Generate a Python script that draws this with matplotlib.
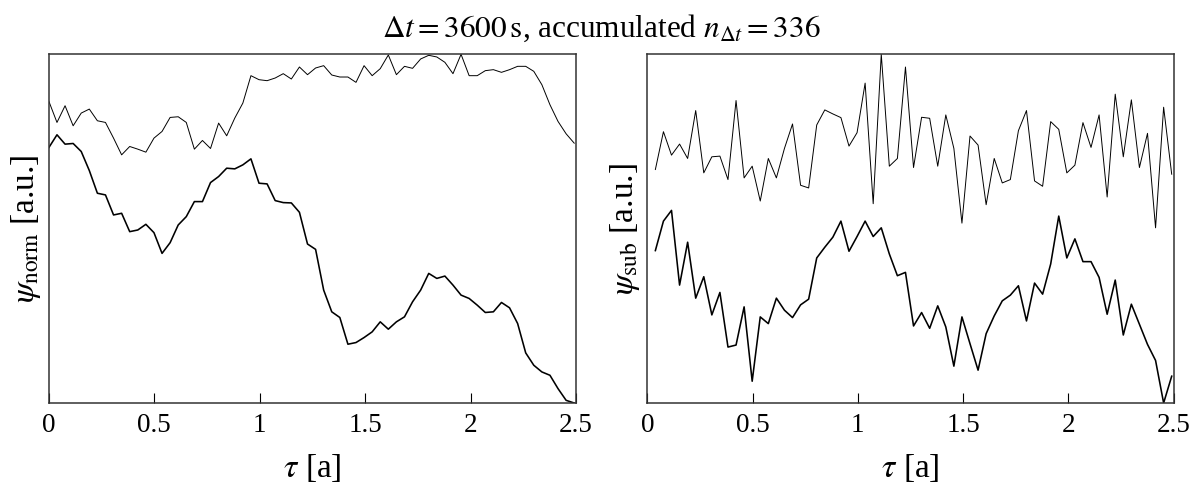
import numpy as np
import matplotlib
matplotlib.use("Agg")
import matplotlib.pyplot as plt

plt.rcParams['font.family'] = ['Liberation Serif', 'DejaVu Serif']
plt.rcParams['mathtext.fontset'] = 'stix'

# lag step: 336 h = 14 days, tau in years
lag_step_days = 14.0
left_idx = np.arange(0, 66)
right_idx = np.arange(1, 66)

norm_thin = [0.903, 0.840, 0.890, 0.830, 0.868, 0.880, 0.845, 0.840, 0.793, 0.743,
             0.768, 0.760, 0.751, 0.793, 0.813, 0.855, 0.857, 0.840, 0.760, 0.786,
             0.762, 0.838, 0.800, 0.853, 0.898, 0.980, 0.968, 0.965, 0.973, 0.986,
             0.970, 1.006, 0.983, 1.003, 1.010, 0.982, 0.976, 0.976, 0.960, 1.010,
             0.980, 1.001, 1.042, 0.983, 1.008, 1.002, 1.030, 1.041, 1.036, 1.020,
             0.986, 1.044, 0.980, 0.980, 0.995, 0.998, 0.990, 0.998, 1.008, 1.008,
             0.993, 0.953, 0.893, 0.843, 0.806, 0.778]

norm_thick = [0.765, 0.803, 0.775, 0.777, 0.753, 0.696, 0.628, 0.623, 0.563, 0.568,
              0.513, 0.518, 0.535, 0.510, 0.448, 0.480, 0.533, 0.558, 0.603, 0.603,
              0.660, 0.678, 0.703, 0.701, 0.713, 0.731, 0.658, 0.656, 0.606, 0.600,
              0.599, 0.571, 0.476, 0.460, 0.338, 0.273, 0.256, 0.176, 0.181, 0.196,
              0.213, 0.243, 0.221, 0.243, 0.258, 0.303, 0.338, 0.388, 0.373, 0.380,
              0.353, 0.323, 0.313, 0.293, 0.271, 0.273, 0.301, 0.285, 0.238, 0.150,
              0.113, 0.093, 0.083, 0.043, 0.008, 0.000]

sub_thin = [0.700, 0.813, 0.743, 0.776, 0.733, 0.876, 0.690, 0.738, 0.740, 0.670,
            0.906, 0.675, 0.710, 0.606, 0.733, 0.675, 0.763, 0.836, 0.653, 0.645,
            0.833, 0.878, 0.866, 0.855, 0.770, 0.810, 0.958, 0.598, 1.044, 0.710,
            0.733, 1.006, 0.706, 0.856, 0.853, 0.710, 0.863, 0.763, 0.540, 0.800,
            0.773, 0.595, 0.733, 0.660, 0.670, 0.816, 0.876, 0.666, 0.650, 0.843,
            0.820, 0.690, 0.713, 0.840, 0.766, 0.863, 0.618, 0.925, 0.738, 0.908,
            0.706, 0.808, 0.526, 0.886, 0.686]

sub_thick = [0.458, 0.546, 0.578, 0.355, 0.483, 0.316, 0.380, 0.266, 0.333, 0.170,
             0.176, 0.290, 0.068, 0.260, 0.240, 0.316, 0.280, 0.258, 0.296, 0.313,
             0.436, 0.468, 0.498, 0.546, 0.456, 0.500, 0.546, 0.500, 0.526, 0.448,
             0.383, 0.393, 0.233, 0.273, 0.226, 0.293, 0.230, 0.113, 0.260, 0.180,
             0.101, 0.210, 0.263, 0.308, 0.325, 0.353, 0.248, 0.361, 0.328, 0.418,
             0.561, 0.436, 0.493, 0.425, 0.425, 0.378, 0.268, 0.370, 0.206, 0.298,
             0.238, 0.178, 0.130, 0.003, 0.083]

xticks = [0, 0.5, 1, 1.5, 2, 2.5]
xtick_labels = ['0', '0.5', '1', '1.5', '2', '2.5']

tau_left = left_idx * lag_step_days / 365.25
tau_right = right_idx * lag_step_days / 365.25

fig = plt.figure(figsize=(12.03, 4.84), dpi=100)
W, H = 1203, 484
ax1 = fig.add_axes([48.9 / W, 1 - 403 / H, (576 - 48.9) / W, (403 - 54.3) / H])
ax2 = fig.add_axes([647.3 / W, 1 - 403 / H, (1173.5 - 647.3) / W, (403 - 54.3) / H])

for ax, t, thin, thick, lab in [(ax1, tau_left, norm_thin, norm_thick, r'$\psi_\mathrm{norm}$ [a.u.]'),
                                (ax2, tau_right, sub_thin, sub_thick, r'$\psi_\mathrm{sub}$ [a.u.]')]:
    ax.plot(t, thin, color='black', lw=0.7)
    ax.plot(t, thick, color='black', lw=1.15)
    lo = min(min(thin), min(thick))
    hi = max(max(thin), max(thick))
    ax.set_ylim(lo, hi)
    ax.set_xlim(0, 2.5)
    ax.set_xticks(xticks)
    ax.set_xticklabels(xtick_labels)
    ax.set_yticks([])
    ax.tick_params(axis='x', direction='in', length=7, width=0.8, labelsize=19.5, pad=7)
    for s in ax.spines.values():
        s.set_linewidth(1.1)
        s.set_color('#333333')
    ax.set_xlabel(r'$\tau$ [a]', fontsize=24, labelpad=10)
    ax.set_ylabel(lab, fontsize=24, labelpad=4)

fig.text(0.5, 1 - 28 / H, r'$\Delta t = 3600\,\mathrm{s}$, accumulated $n_{\Delta t} = 336$',
         ha='center', va='center', fontsize=22.5)

fig.savefig('out.png', dpi=100)
